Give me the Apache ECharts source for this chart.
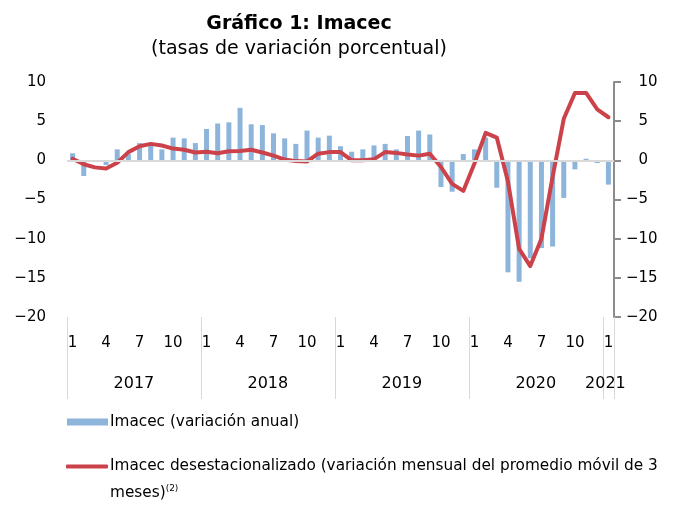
<!DOCTYPE html>
<html><head><meta charset="utf-8">
<script src="https://cdn.jsdelivr.net/npm/echarts@6/dist/echarts.min.js"></script>
<style>html,body{margin:0;padding:0;background:#fff}#c{width:683px;height:519px}</style>
</head><body><div id="c"></div>
<script>
// Categories
const years = ['2017', '2018', '2019', '2020', '2021'];
const monthsPerYear = [12, 12, 12, 12, 1];
const monthTickLabels = ['1', '4', '7', '10'];
const yTicks = [-20, -15, -10, -5, 0, 5, 10];

// Series values
const imacecAnual = [
  0.9, -2.0, -0.2, -0.6, 1.4, 0.8, 2.2, 2.2, 1.4, 2.9, 2.8, 2.2,
  4.0, 4.7, 4.85, 6.7, 4.6, 4.5, 3.45, 2.8, 2.1, 3.8, 2.9, 3.15,
  1.8, 1.1, 1.4, 1.9, 2.1, 1.4, 3.1, 3.8, 3.3, -3.4, -4.0, 0.8,
  1.4, 2.9, -3.5, -14.3, -15.5, -12.5, -11.2, -11.0, -4.8, -1.15, 0.2, -0.35,
  -3.1
];
const imacecDesest = [
  0.2, -0.5, -0.9, -1.05, -0.3, 1.05, 1.8, 2.1, 1.9, 1.5, 1.35, 1.0,
  1.1, 0.9, 1.15, 1.2, 1.35, 1.0, 0.6, 0.1, -0.1, -0.15, 0.85, 1.05,
  1.05, 0.0, 0.0, 0.15, 1.05, 0.95, 0.75, 0.6, 0.85, -0.85, -3.0, -3.9,
  -0.4, 3.5, 2.9, -2.7, -11.3, -13.5, -10.0, -2.1, 5.3, 8.6, 8.6, 6.5,
  5.5
];

const categories = [];
years.forEach((y, yi) => {
  for (let m = 1; m <= monthsPerYear[yi]; m++) categories.push(y + '-' + m);
});
const monthOf = v => v.split('-')[1];
const yearOf = v => v.split('-')[0];

const FONT = 'DejaVu Sans';
const chart = echarts.init(document.getElementById('c'), null, {renderer: 'canvas'});
const fmtLeft = v => (v < 0 ? '\u2212' + Math.abs(v) : String(v));
const fmtRight = v => (v < 0 ? '\u2212' + Math.abs(v) : '{g|\u2212}' + v);

chart.setOption({
  animation: false,
  backgroundColor: '#fff',
  title: {
    text: 'Gráfico 1: Imacec',
    subtext: '(tasas de variación porcentual)',
    left: 294, top: 10, textAlign: 'center', itemGap: 6,
    textStyle: {fontFamily: FONT, fontSize: 19, fontWeight: 'bold', color: '#000'},
    subtextStyle: {fontFamily: FONT, fontSize: 19, color: '#000'}
  },
  grid: {left: 67, right: 69, top: 82, bottom: 202, containLabel: false},
  legend: [
    {
      data: [{name: 'Imacec (variación anual)', icon: 'rect'}],
      left: 67, top: 413, padding: 0,
      itemWidth: 41, itemHeight: 7,
      textStyle: {fontFamily: FONT, fontSize: 15.3, color: '#000', lineHeight: 18, padding: [0, 0, 0, -3]}
    },
    {
      data: [{name: 'desest', icon: 'roundRect'}],
      left: 66, top: 426, padding: 0,
      itemWidth: 42, itemHeight: 4,
      formatter: () => '\nImacec desestacionalizado (variación mensual del promedio móvil de 3\nmeses){sup|(2)}',
      textStyle: {
        fontFamily: FONT, fontSize: 15.3, color: '#000', lineHeight: 27, padding: [0, 0, 0, -3],
        rich: {sup: {fontFamily: FONT, fontSize: 9, color: '#000', verticalAlign: 'top', padding: [4, 0, 0, 0]}}
      }
    }
  ],
  xAxis: [
    {
      type: 'category', data: categories, position: 'bottom', boundaryGap: true,
      axisLine: {show: false, onZero: false}, axisTick: {show: false},
      axisLabel: {
        interval: (i, v) => monthTickLabels.includes(monthOf(v)),
        formatter: v => monthOf(v),
        margin: 19, fontFamily: FONT, fontSize: 15, color: '#000'
      }
    },
    {
      type: 'category', data: categories, position: 'bottom', boundaryGap: true,
      axisLine: {show: false, onZero: false},
      axisTick: {
        show: true, alignWithLabel: false, length: 82,
        interval: (i, v) => monthOf(v) === '1',
        lineStyle: {color: '#d9d9d9', width: 1}
      },
      axisLabel: {
        interval: (i, v) => monthOf(v) === '6' || (yearOf(v) === '2021' && monthOf(v) === '1'),
        formatter: v => (yearOf(v) === '2021' ? '{z|' + yearOf(v) + '}' : '{y|' + yearOf(v) + '}'),
        margin: 59, fontFamily: FONT, fontSize: 16, color: '#000',
        rich: {
          y: {fontFamily: FONT, fontSize: 16, color: '#000', padding: [0, 0, 0, 11]},
          z: {fontFamily: FONT, fontSize: 16, color: '#000', padding: [0, 6, 0, 0]}
        }
      },
      splitLine: {show: false}
    }
  ],
  yAxis: [
    {
      type: 'value', position: 'left', min: -20, max: 10, interval: 5,
      axisLine: {show: false}, axisTick: {show: false}, splitLine: {show: false},
      axisLabel: {formatter: fmtLeft, margin: 21, fontFamily: FONT, fontSize: 15, color: '#000'}
    },
    {
      type: 'value', position: 'right', min: -20, max: 10, interval: 5,
      axisLine: {show: true, lineStyle: {color: '#8c8c8c', width: 2}},
      axisTick: {show: true, length: 7, lineStyle: {color: '#8c8c8c', width: 2}},
      splitLine: {show: false},
      axisLabel: {
        formatter: fmtRight, margin: 12, fontFamily: FONT, fontSize: 15, color: '#000',
        rich: {g: {fontFamily: FONT, fontSize: 15, color: 'rgba(0,0,0,0)'}}
      }
    }
  ],
  series: [
    {
      name: 'Imacec (variación anual)', type: 'bar', xAxisIndex: 0, yAxisIndex: 0,
      data: imacecAnual, barWidth: 5,
      itemStyle: {color: '#8db4da'},
      markLine: {
        silent: true, symbol: 'none', label: {show: false},
        lineStyle: {color: '#d9d9d9', width: 2, type: 'solid'},
        data: [{yAxis: 0}]
      },
      z: 2
    },
    {
      name: 'desest', type: 'line', xAxisIndex: 0, yAxisIndex: 1,
      data: imacecDesest, showSymbol: false, symbol: 'none',
      lineStyle: {color: '#cc424b', width: 4, join: 'round', cap: 'round'},
      itemStyle: {color: '#cc424b'},
      z: 3
    }
  ]
});
</script>
</body></html>
